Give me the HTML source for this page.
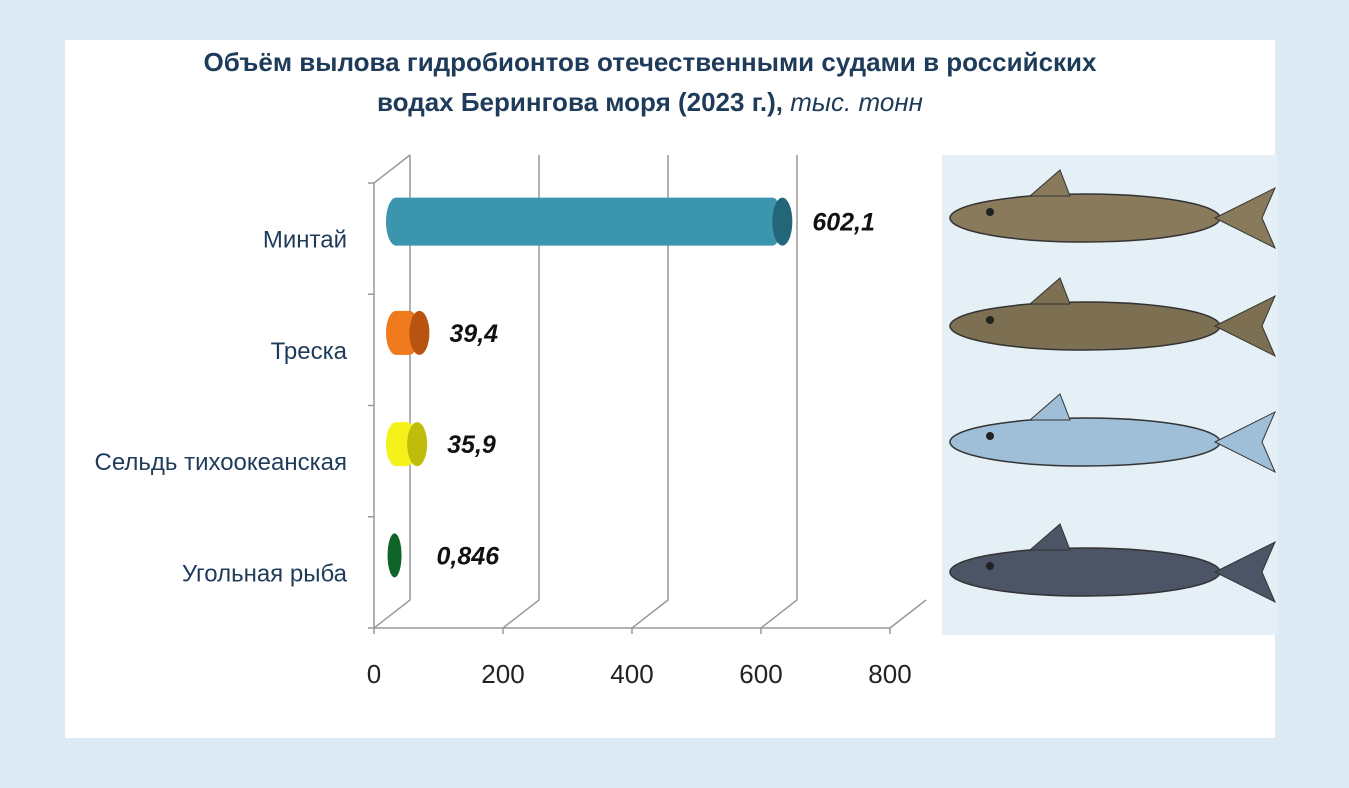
<!DOCTYPE html>
<html><head><meta charset="utf-8"><style>
body{margin:0;width:1349px;height:788px;overflow:hidden;background:#dcebf3;font-family:"Liberation Sans",sans-serif;}
#panel{position:absolute;left:65px;top:40px;width:1210px;height:698px;background:#fff;}
#title{position:absolute;left:50px;top:42px;width:1200px;text-align:center;font-weight:bold;font-size:26px;line-height:40px;color:#1f3b5a;font-family:"Liberation Sans",sans-serif;}
#title i{font-weight:normal;}
</style></head><body>
<div id="bg"></div>
<div id="panel"></div>
<div id="title">Объём вылова гидробионтов отечественными судами в российских<br>водах Берингова моря (2023 г.), <i>тыс. тонн</i></div>
<svg id="chart" width="1349" height="788" style="position:absolute;left:0;top:0"></svg>
<script>
const categories=["Минтай","Треска","Сельдь тихоокеанская","Угольная рыба"];
const values=[602.1,39.4,35.9,0.846];
const labels=["602,1","39,4","35,9","0,846"];
const ticks=[0,200,400,600,800];
const colors=[["#3a95ad","#23667a"],["#f07a1e","#b95310"],["#f4f21a","#c0bc0a"],["#1c8a3c","#0f6428"]];
const NS="http://www.w3.org/2000/svg";
const svg=document.getElementById('chart');
function mk(t,a,p){const e=document.createElementNS(NS,t);for(const k in a)e.setAttribute(k,a[k]);(p||svg).appendChild(e);return e;}
const x0=374,x1=890,base=628,top0=183,dx=36,dy=-28;
const xs=v=>x0+(v-ticks[0])/(ticks[ticks.length-1]-ticks[0])*(x1-x0);
const bandH=(base-top0)/categories.length;
const yc=i=>top0+bandH*(i+0.5);
// fish panel
const fp=mk('rect',{x:942,y:155,width:336,height:480,fill:'#e4f0f6'});


const fishCol=['#8a7a5c','#7d6f52','#9fbfd8','#4b5566'];
const fishY=[218,326,442,572];
for(let i=0;i<4;i++){const cy=fishY[i];
const g=mk('g',{});


mk('ellipse',{cx:1085,cy:cy,rx:135,ry:24,fill:fishCol[i],stroke:'#333','stroke-width':1.5},g);
mk('polygon',{points:`1215,${cy} 1275,${cy-30} 1262,${cy} 1275,${cy+30}`,fill:fishCol[i],stroke:'#333'},g);
mk('polygon',{points:`1030,${cy-22} 1060,${cy-48} 1070,${cy-22}`,fill:fishCol[i],stroke:'#333'},g);
mk('circle',{cx:990,cy:cy-6,r:4,fill:'#222'},g);}
// gridlines and walls
ticks.forEach((t,k)=>{const x=xs(t);
const pts=k<ticks.length-1?`${x},${base} ${x+dx},${base+dy} ${x+dx},155`:`${x},${base} ${x+dx},${base+dy}`;
const l=mk('polyline',{points:pts,fill:'none',stroke:'#999','stroke-width':1.5});


mk('line',{x1:x,y1:base,x2:x,y2:base+6,stroke:'#999','stroke-width':1.5});
const tx=mk('text',{x:x,y:683,'font-size':26,'text-anchor':'middle',fill:'#222','font-family':'Liberation Sans'});
tx.textContent=t;

});
mk('line',{x1:x0,y1:base,x2:x1,y2:base,stroke:'#999','stroke-width':1.5});
mk('line',{x1:x0,y1:base,x2:x0,y2:top0,stroke:'#999','stroke-width':1.5});
mk('line',{x1:x0,y1:top0,x2:x0+dx,y2:155,stroke:'#999','stroke-width':1.5});
for(let i=0;i<=categories.length;i++){const y=top0+bandH*i;mk('line',{x1:x0-6,y1:y,x2:x0,y2:y,stroke:'#999','stroke-width':1.5});}
categories.forEach((c,i)=>{const y=yc(i);
const t=mk('text',{x:347,y:y+9,'font-size':24,'text-anchor':'end',fill:'#1f3b5a','font-family':'Liberation Sans'});
t.textContent=c;


const by=y-17;
const h=i==0?48:44, rx=i==3?7:10;
const xl=i==3?393:386, xr=Math.max(xs(values[i])+20,xl);
const g=mk('g',{});


const w=Math.max(xr-xl,0);
if(w>0)mk('rect',{x:xl,y:by-h/2,width:w,height:h,rx:rx,ry:h/2,fill:colors[i][0]},g);
mk('ellipse',{cx:xr,cy:by,rx:rx,ry:h/2,fill:w>0?colors[i][1]:colors[i][0]},g);
const v=mk('text',{x:xr+(i==3?42:30),y:by+9,'font-size':25,'font-weight':'bold','font-style':'italic',fill:'#111','font-family':'Liberation Sans'});
v.textContent=labels[i];

});
</script>
</body></html>
